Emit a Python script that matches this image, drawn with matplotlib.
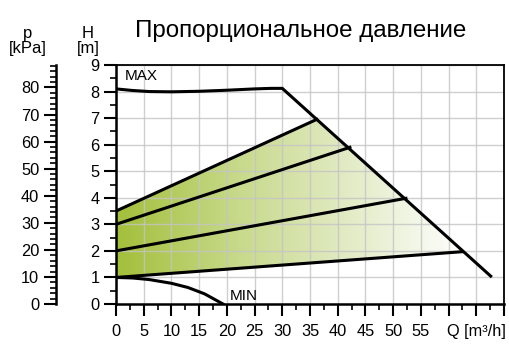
import numpy as np
import matplotlib.pyplot as plt
from matplotlib.colors import LinearSegmentedColormap
from matplotlib.patches import Polygon
from matplotlib.ticker import MultipleLocator

plt.rcParams['font.family'] = ['Liberation Sans', 'DejaVu Sans']

# MAX curve (Q in m3/h, H in m)
max_q = [0, 3, 6, 10, 15, 20, 25, 28, 30, 67.6]
max_h = [8.1, 8.04, 8.0, 7.99, 8.01, 8.05, 8.1, 8.12, 8.12, 1.05]

# MIN curve
min_q = [0, 3, 6, 10, 13, 16, 19.3]
min_h = [1.0, 0.98, 0.92, 0.78, 0.62, 0.38, 0.0]

# proportional pressure lines: start head at Q=0, end point on MAX curve
prop_start_h = [3.5, 3.0, 2.0, 1.0]
prop_end_q = [36.2, 42.2, 52.3, 62.5]
prop_end_h = [6.95, 5.9, 3.98, 1.97]

xtick_vals = [0, 5, 10, 15, 20, 25, 30, 35, 40, 45, 50, 55, 60, 65, 70]
xtick_labels = ['0', '5', '10', '15', '20', '25', '30', '35', '40', '45', '50', '55', '', 'Q [m³/h]', '']
h_ticks = list(range(0, 10))
p_ticks = list(range(0, 90, 10))
kpa_per_m = 9.81

fig = plt.figure(figsize=(5.09, 3.49), dpi=100)
ax = fig.add_axes([116 / 509, 1 - 304 / 349, 388 / 509, 239 / 349])

ax.set_xlim(0, 70)
ax.set_ylim(0, 9)

# grid
ax.set_xticks(xtick_vals)
ax.set_xticklabels(xtick_labels, fontsize=11.8)
ax.xaxis.set_minor_locator(MultipleLocator(2.5))
ax.set_yticks(h_ticks)
ax.set_yticklabels([str(v) for v in h_ticks], fontsize=11.8)
ax.yaxis.set_minor_locator(MultipleLocator(0.5))
ax.grid(True, which='major', color='#c4c4c4', alpha=0.8, linewidth=1.0)
ax.set_axisbelow(True)

ax.tick_params(axis='both', which='major', direction='out', length=8.5, width=1.5, pad=3.5, color='black')
ax.tick_params(axis='x', which='major', pad=6)
ax.tick_params(axis='both', which='minor', direction='out', length=4.2, width=1.2, color='black')
for side in ['left', 'bottom']:
    ax.spines[side].set_linewidth(1.8)
for side in ['top', 'right']:
    ax.spines[side].set_linewidth(1.3)

# green gradient region between lowest and highest proportional line
poly_x = [0, prop_end_q[3]] + [prop_end_q[0], 0]
poly_y = [prop_start_h[3], prop_end_h[3]] + [prop_end_h[0], prop_start_h[0]]
poly = Polygon(list(zip(poly_x, poly_y)), closed=True, facecolor='none', edgecolor='none')
ax.add_patch(poly)
cmap = LinearSegmentedColormap.from_list(
    'grn', [(0, '#a3bf3a'), (0.35, '#c8da8c'), (0.62, '#dfe9bf'), (0.85, '#f3f7e8'), (1, '#ffffff')])
grad = np.linspace(0, 1, 256).reshape(1, -1)
im = ax.imshow(grad, extent=[0, 64, 0, 9], aspect='auto', cmap=cmap, zorder=0.2)
im.set_clip_path(poly)

lw = 2.2
ax.plot(max_q, max_h, color='black', linewidth=lw, solid_joinstyle='miter', zorder=3)
ax.plot(min_q, min_h, color='black', linewidth=lw, zorder=3)
for h0, q1, h1 in zip(prop_start_h, prop_end_q, prop_end_h):
    ax.plot([0, q1], [h0, h1], color='black', linewidth=lw, zorder=3)

ax.text(1.6, 8.58, 'MAX', fontsize=11, va='center', ha='left')
ax.text(20.5, 0.3, 'MIN', fontsize=11, va='center', ha='left')

# pressure axis in kPa
pax = fig.add_axes([56 / 509, 1 - 304 / 349, 0.0001, 239 / 349])
pax.set_ylim(0, 9 * kpa_per_m)
pax.set_xticks([])
pax.set_yticks(p_ticks)
pax.set_yticklabels([str(v) for v in p_ticks], fontsize=11.8)
pax.yaxis.set_minor_locator(MultipleLocator(2))
pax.tick_params(axis='y', which='major', direction='out', length=8.5, width=1.5, pad=3.5)
pax.tick_params(axis='y', which='minor', direction='out', length=4, width=1.2)
for side in ['top', 'right', 'bottom']:
    pax.spines[side].set_visible(False)
pax.spines['left'].set_linewidth(1.8)
pax.patch.set_visible(False)

fig.text(28 / 509, 1 - 41 / 349, 'p\n[kPa]', fontsize=12, ha='center', va='center', linespacing=0.95)
fig.text(88 / 509, 1 - 41 / 349, 'H\n[m]', fontsize=12, ha='center', va='center', linespacing=0.95)
fig.text(301 / 509, 1 - 31 / 349, 'Пропорциональное давление', fontsize=17.4, ha='center', va='center')

fig.savefig('out.png', dpi=100)
